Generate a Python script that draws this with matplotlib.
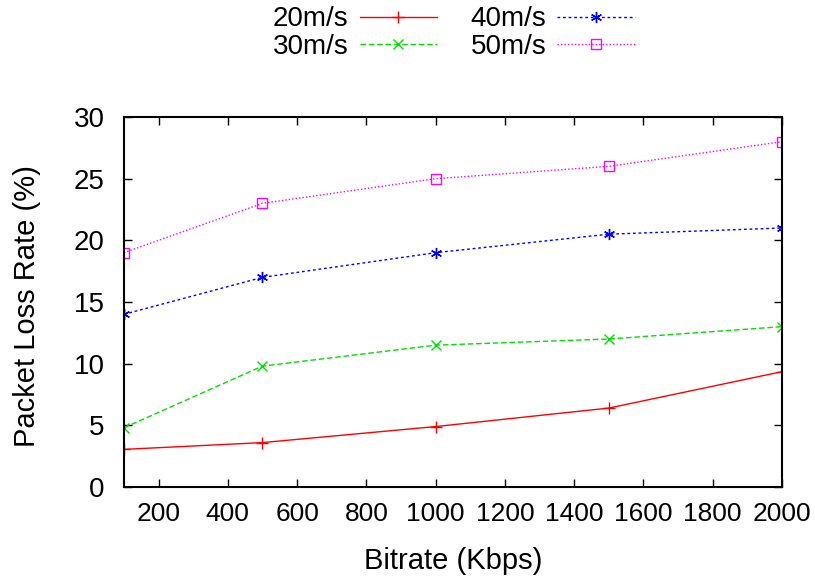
import matplotlib
matplotlib.use("Agg")
import matplotlib.pyplot as plt

plt.rcParams['font.family'] = ['Liberation Sans', 'DejaVu Sans']

bitrate = [100, 500, 1000, 1500, 2000]
loss_20 = [3.05, 3.6, 4.9, 6.4, 9.35]
loss_30 = [4.8, 9.8, 11.5, 12.0, 13.0]
loss_40 = [14.0, 17.0, 19.0, 20.5, 21.0]
loss_50 = [19.0, 23.0, 25.0, 26.0, 28.0]
labels = ['20m/s', '30m/s', '40m/s', '50m/s']
xticks = [200, 400, 600, 800, 1000, 1200, 1400, 1600, 1800, 2000]
yticks = [0, 5, 10, 15, 20, 25, 30]

fig = plt.figure(figsize=(8.15, 5.81), dpi=100)
ax = fig.add_axes([0.152, 0.1618, 0.8075, 0.6368])

ax.plot(bitrate, loss_20, color='#ff0000', linestyle='-', lw=1, marker='+', ms=8, mew=1, label=labels[0])
ax.plot(bitrate, loss_30, color='#00e000', linestyle=(0, (4, 2)), lw=1, marker='x', ms=7, mew=1, label=labels[1])
ax.plot(bitrate, loss_40, color='#0000ff', linestyle=(0, (2, 2)), lw=1, marker=(6, 2, 0), ms=8, mew=1, label=labels[2])
ax.plot(bitrate, loss_50, color='#ff00ff', linestyle=(0, (1, 1.5)), lw=1, marker='s', ms=7, mew=1, mfc='none', label=labels[3])

ax.set_xlim(100, 2000)
ax.set_ylim(0, 30)
ax.set_xticks(xticks)
ax.set_yticks(yticks)
ax.tick_params(direction='in', top=True, right=True, length=6, width=1)
ax.tick_params(axis='x', labelsize=19, pad=11)
ax.tick_params(axis='y', labelsize=20, pad=14)
for s in ax.spines.values():
    s.set_linewidth(1.5)

ax.set_xlabel('Bitrate (Kbps)', fontsize=21)
ax.set_ylabel('Packet Loss Rate (%)', fontsize=21)
ax.xaxis.set_label_coords(0.5, -0.163)
ax.yaxis.set_label_coords(-0.126, 0.49)

leg = fig.legend(loc='center', bbox_to_anchor=(0.557, 0.943), ncol=2, frameon=False,
                 fontsize=20, markerfirst=False, numpoints=1, handlelength=2.8,
                 handletextpad=0.4, columnspacing=1.2, labelspacing=0.05,
                 borderaxespad=0, borderpad=0)

fig.savefig('out.png', dpi=100)
